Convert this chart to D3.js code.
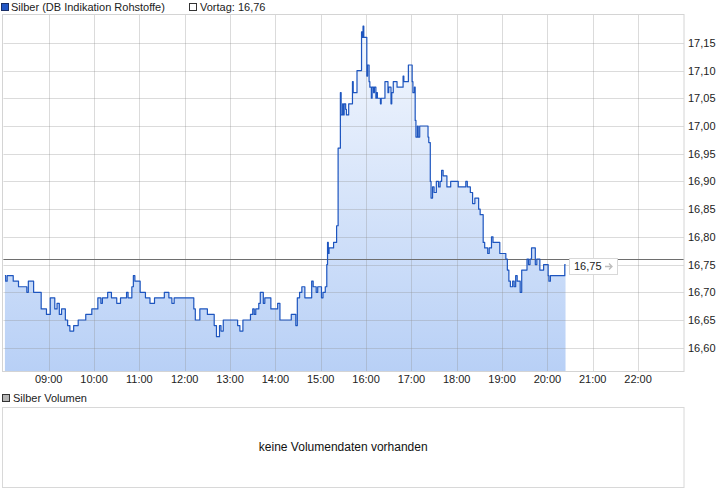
<!DOCTYPE html>
<html>
<head>
<meta charset="utf-8">
<script src="https://cdn.jsdelivr.net/npm/d3@7"></script>
<style>
  html, body { margin: 0; padding: 0; background: #fff; }
  svg { display: block; }
  text { font-family: "Liberation Sans", Arial, sans-serif; }
</style>
</head>
<body>
<svg id="chart" width="726" height="496"></svg>
<script>
// ---------- data ----------
const seriesName = "Silber (DB Indikation Rohstoffe)";
const priorLabel = "Vortag: 16,76";
const priorClose = 16.76;
const lastPrice = 16.75;
const volumeName = "Silber Volumen";
const volumeMessage = "keine Volumendaten vorhanden";

const times = [
  "08:02","08:03","08:05","08:13","08:20","08:31","08:33","08:40","08:50","08:57",
  "09:02","09:08","09:11","09:14","09:17","09:22","09:25","09:28","09:33","09:39",
  "09:49","09:57","10:05","10:09","10:11","10:18","10:23","10:30","10:35","10:43",
  "10:45","10:50","10:52","10:54","11:01","11:08","11:14","11:20","11:33","11:39",
  "11:43","11:46","12:12","12:14","12:20","12:30","12:39","12:42","12:46","12:48",
  "12:51","13:10","13:13","13:17","13:27","13:30","13:32","13:34","13:38","13:40",
  "13:44","13:46","13:54","14:03","14:06","14:21","14:27","14:29","14:32","14:35",
  "14:39","14:48","14:50","14:54","14:56","15:01","15:03","15:06","15:08","15:09",
  "15:10","15:11","15:17","15:21","15:23","15:26","15:27","15:29","15:30","15:31",
  "15:33","15:34","15:37","15:42","15:43","15:48","15:54","15:55","15:56","15:57",
  "16:01","16:02","16:04","16:05","16:07","16:08","16:10","16:11","16:13","16:14",
  "16:15","16:19","16:20","16:25","16:29","16:30","16:33","16:34","16:36","16:41",
  "16:49","16:50","16:56","17:01","17:02","17:04","17:05","17:06","17:08","17:09",
  "17:11","17:22","17:23","17:25","17:26","17:28","17:30","17:33","17:36","17:38",
  "17:40","17:42","17:47","17:52","18:02","18:12","18:14","18:18","18:21","18:24",
  "18:29","18:31","18:35","18:37","18:41","18:43","18:46","18:48","18:57","19:05",
  "19:07","19:09","19:11","19:14","19:16","19:18","19:20","19:24","19:26","19:33",
  "19:35","19:37","19:39","19:44","19:46","19:50","19:55","20:01","20:02","20:04",
  "20:23","20:24"
];
const prices = [
  16.73,16.72,16.73,16.72,16.71,16.70,16.72,16.70,16.67,16.66,
  16.69,16.67,16.68,16.66,16.67,16.65,16.64,16.63,16.64,16.65,
  16.66,16.67,16.69,16.68,16.69,16.70,16.69,16.68,16.69,16.70,
  16.69,16.71,16.73,16.72,16.70,16.69,16.68,16.69,16.70,16.69,
  16.68,16.69,16.67,16.65,16.67,16.66,16.64,16.62,16.64,16.63,
  16.65,16.64,16.63,16.65,16.66,16.67,16.66,16.67,16.68,16.70,
  16.68,16.69,16.67,16.68,16.65,16.66,16.64,16.69,16.70,16.71,
  16.69,16.72,16.71,16.70,16.71,16.69,16.70,16.71,16.75,16.79,
  16.77,16.78,16.79,16.82,16.96,17.06,17.02,17.04,17.02,17.04,
  17.03,17.02,17.04,17.08,17.06,17.10,17.17,17.16,17.18,17.16,
  17.09,17.11,17.08,17.07,17.05,17.07,17.06,17.07,17.05,17.06,
  17.05,17.04,17.05,17.08,17.06,17.07,17.04,17.06,17.08,17.07,
  17.09,17.08,17.11,17.08,17.06,17.07,17.01,16.98,17.00,16.98,
  17.00,16.98,16.97,16.90,16.87,16.89,16.88,16.90,16.89,16.90,
  16.92,16.91,16.89,16.90,16.89,16.90,16.89,16.88,16.86,16.87,
  16.85,16.84,16.79,16.78,16.77,16.78,16.80,16.79,16.77,16.76,
  16.74,16.72,16.71,16.72,16.71,16.73,16.72,16.70,16.74,16.76,
  16.75,16.76,16.78,16.75,16.76,16.74,16.75,16.73,16.72,16.73,
  16.75,16.75
];
const yTickValues = [16.60,16.65,16.70,16.75,16.80,16.85,16.90,16.95,17.00,17.05,17.10,17.15];
const xTickLabels = ["09:00","10:00","11:00","12:00","13:00","14:00","15:00","16:00","17:00","18:00","19:00","20:00","21:00","22:00"];
const xDomainLabels = ["08:00","23:00"];
const yDomain = [16.558, 17.202];

// ---------- setup ----------
const svg = d3.select("#chart");
const parse = d3.timeParse("%H:%M");
const locale = d3.formatLocale({decimal: ",", thousands: ".", grouping: [3], currency: ["", "€"]});
const fmt = locale.format(".2f");

const plot = {left: 3.4, right: 683.4, top: 14, bottom: 371};
const x = d3.scaleTime().domain(xDomainLabels.map(parse)).range([plot.left, plot.right]);
const y = d3.scaleLinear().domain(yDomain).range([plot.bottom, plot.top]);

const data = times.map((t, i) => ({t: parse(t), v: prices[i]}));

svg.append("rect").attr("width", 726).attr("height", 496).attr("fill", "#fff");

// gradient
const defs = svg.append("defs");
const grad = defs.append("linearGradient").attr("id", "areaGrad")
  .attr("gradientUnits", "userSpaceOnUse")
  .attr("x1", 0).attr("x2", 0).attr("y1", plot.top).attr("y2", plot.bottom);
grad.append("stop").attr("offset", "0%").attr("stop-color", "#f6f9fe");
grad.append("stop").attr("offset", "100%").attr("stop-color", "#b8d0f6");

// area
const area = d3.area().curve(d3.curveStepAfter)
  .x(d => x(d.t)).y0(plot.bottom).y1(d => y(d.v));
svg.append("path").datum(data).attr("d", area).attr("fill", "url(#areaGrad)");

// gridlines
const grid = svg.append("g").attr("stroke", "#8f8f8f").attr("stroke-opacity", 0.32).attr("stroke-width", 1);
xTickLabels.forEach(l => {
  const xx = Math.round(x(parse(l))) + 0.5;
  grid.append("line").attr("x1", xx).attr("x2", xx).attr("y1", plot.top).attr("y2", plot.bottom);
});
yTickValues.forEach(v => {
  const yy = Math.round(y(v)) + 0.5;
  grid.append("line").attr("x1", plot.left).attr("x2", plot.right + 0.6).attr("y1", yy).attr("y2", yy);
});

// prior close line
const pcY = Math.round(y(priorClose)) + 0.5;
svg.append("line").attr("x1", plot.left).attr("x2", plot.right + 0.6)
  .attr("y1", pcY).attr("y2", pcY).attr("stroke", "#6e6e6e").attr("stroke-width", 1);

// price line
const line = d3.line().curve(d3.curveStepAfter).x(d => x(d.t)).y(d => y(d.v));
svg.append("path").datum(data).attr("d", line)
  .attr("fill", "none").attr("stroke", "#1d55bf").attr("stroke-width", 1.2)
  .attr("stroke-linejoin", "round");

// plot border
svg.append("rect").attr("x", 2.5).attr("y", plot.top + 0.5)
  .attr("width", plot.right + 0.6 - 2.5).attr("height", plot.bottom - plot.top)
  .attr("fill", "none").attr("stroke", "#d4d4d4");

// y labels
svg.append("g").selectAll("text").data(yTickValues).join("text")
  .attr("x", 688).attr("y", d => y(d)).attr("dy", "0.36em")
  .attr("font-size", 11).attr("fill", "#222").text(d => fmt(d));

// x labels
svg.append("g").selectAll("text").data(xTickLabels).join("text")
  .attr("x", d => x(parse(d))).attr("y", 383).attr("text-anchor", "middle")
  .attr("font-size", 11).attr("fill", "#222").text(d => d);

// last price label
const lastX = x(data[data.length - 1].t);
const lpY = y(lastPrice) + 1.5;
const lg = svg.append("g");
lg.append("rect").attr("x", Math.round(lastX) + 3.5).attr("y", Math.round(lpY - 8.5) + 0.5)
  .attr("width", 48).attr("height", 16).attr("fill", "#fff").attr("stroke", "#d8d8d8");
lg.append("text").attr("x", Math.round(lastX) + 8).attr("y", lpY).attr("dy", "0.36em")
  .attr("font-size", 11).attr("fill", "#222").text(fmt(lastPrice));
const ax = Math.round(lastX) + 39, ay = Math.round(lpY) + 0.5;
lg.append("path")
  .attr("d", `M${ax},${ay} L${ax + 7},${ay} M${ax + 4},${ay - 3} L${ax + 7},${ay} L${ax + 4},${ay + 3}`)
  .attr("stroke", "#bdbdbd").attr("stroke-width", 1.3).attr("fill", "none");

// top legend
svg.append("rect").attr("x", 1.5).attr("y", 3.5).attr("width", 7).attr("height", 7)
  .attr("fill", "#2257c5").attr("stroke", "#1a2f66");
svg.append("text").attr("x", 11).attr("y", 11).attr("font-size", 11).attr("fill", "#222").text(seriesName);
svg.append("rect").attr("x", 189.5).attr("y", 3.5).attr("width", 7).attr("height", 7)
  .attr("fill", "#fff").attr("stroke", "#333");
svg.append("text").attr("x", 200).attr("y", 11).attr("font-size", 11).attr("fill", "#222").text(priorLabel);

// volume panel
svg.append("rect").attr("x", 2.5).attr("y", 394.5).attr("width", 7).attr("height", 7)
  .attr("fill", "#b4b4b4").attr("stroke", "#333");
svg.append("text").attr("x", 13).attr("y", 402).attr("font-size", 11).attr("fill", "#222").text(volumeName);
svg.append("rect").attr("x", 2.5).attr("y", 407.5).attr("width", plot.right + 0.6 - 2.5).attr("height", 80)
  .attr("fill", "#fff").attr("stroke", "#d8d8d8");
svg.append("text").attr("x", (2.5 + plot.right + 0.6) / 2).attr("y", 447).attr("dy", "0.36em")
  .attr("text-anchor", "middle").attr("font-size", 12).attr("fill", "#111").text(volumeMessage);
</script>
</body>
</html>
